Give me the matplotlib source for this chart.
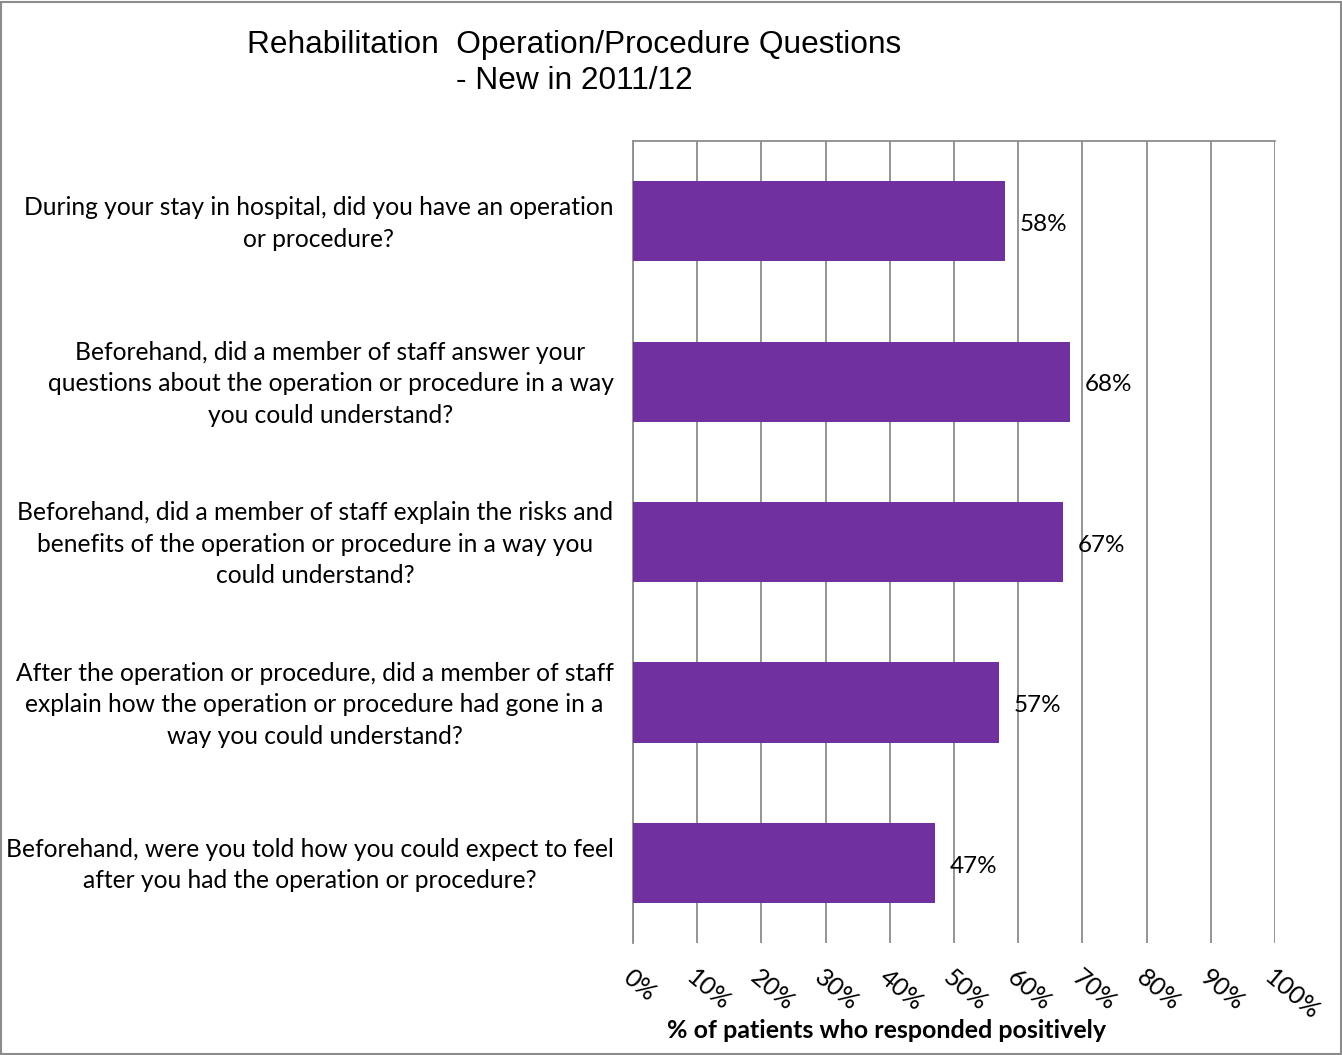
import numpy as np
import matplotlib.pyplot as plt
from matplotlib.patches import Rectangle
from matplotlib.transforms import ScaledTranslation

questions = [
    "During your stay in hospital, did you have an operation\nor procedure?",
    "Beforehand, did a member of staff answer your\nquestions about the operation or procedure in a way\nyou could understand?",
    "Beforehand, did a member of staff explain the risks and\nbenefits of the operation or procedure in a way you\ncould understand?",
    "After the operation or procedure, did a member of staff\nexplain how the operation or procedure had gone in a\nway you could understand?",
    "Beforehand, were you told how you could expect to feel\nafter you had the operation or procedure?",
]
values = [58, 68, 67, 57, 47]
ticks = list(range(0, 101, 10))
tick_labels = [f"{t}%" for t in ticks]

purple = '#7030A0'
grid_c = '#8c8c8c'
label_font = 'Lato'

fig = plt.figure(figsize=(13.42, 10.55), dpi=100)
ax = fig.add_axes([633 / 1342, 1 - 943 / 1055, 642 / 1342, 802 / 1055])

y = np.arange(len(values))
ax.barh(y, values, height=0.5, color=purple, zorder=3)
ax.set_ylim(len(values) - 0.5, -0.5)
ax.set_xlim(0, 100)

for yi, v in zip(y, values):
    ax.text(v + 2.3, yi + 0.02, f"{v}%", va='center', ha='left', fontsize=17.5,
            family=label_font, zorder=4)

ax.set_xticks(ticks)
ax.set_xticklabels(tick_labels, rotation=-40, ha='left', va='top',
                   rotation_mode='anchor', fontsize=18, family=label_font)
ax.tick_params(axis='x', length=0, pad=16)
ax.xaxis.grid(True, color=grid_c, linewidth=1.3, zorder=0)

ax.set_yticks(y)
ax.set_yticklabels(questions, fontsize=17.7, family=label_font,
                   multialignment='center', linespacing=1.45)
ax.tick_params(axis='y', length=0, pad=14)
# nudge the question labels up a touch
shift = ScaledTranslation(0, 0.04, fig.dpi_scale_trans)
for lab in ax.get_yticklabels():
    lab.set_transform(lab.get_transform() + shift)

for s in ['right', 'bottom']:
    ax.spines[s].set_visible(False)
for s in ['left', 'top']:
    ax.spines[s].set_color(grid_c)
    ax.spines[s].set_linewidth(1.3)

fig.text(574 / 1342, 1 - 63 / 1055,
         "Rehabilitation  Operation/Procedure Questions\n- New in 2011/12",
         ha='center', va='center', fontsize=22.8, family='Liberation Sans',
         linespacing=1.3)
fig.text(887 / 1342, 1 - 1030 / 1055, "% of patients who responded positively",
         ha='center', va='center', fontsize=18, fontweight='bold',
         family=label_font)

fig.patches.append(Rectangle((0.001, 0.001), 0.998, 0.997, transform=fig.transFigure,
                             fill=False, edgecolor='#8c8c8c', linewidth=1.5))

fig.savefig('out.png', dpi=100)
